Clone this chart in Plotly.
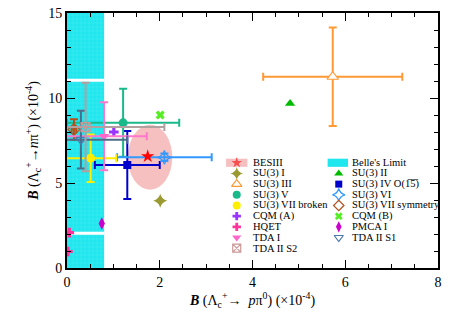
import plotly.graph_objects as go

# --- data ---
pred_name = ["SU(3) I", "SU(3) II", "SU(3) III", "SU(3) IV", "SU(3) V", "SU(3) VI",
             "SU(3) VII broken", "SU(3) VII symmetry", "CQM (A)", "CQM (B)",
             "HQET", "HQET", "PMCA I", "TDA I", "TDA II S1", "TDA II S2"]
pred_x = [2.01, 4.81, 5.73, 1.30, 1.21, 2.10, 0.51, 0.15, 1.01, 2.01, 0.05, 0.02, 0.75, 0.80, 0.30, 0.40]
pred_y = [3.95, 9.67, 11.25, 6.06, 8.54, 6.51, 6.46, 8.15, 8.00, 9.00, 2.08, 0.97, 2.62, 7.75, 7.55, 8.29]
pred_ex = [0, 0, 1.50, 0.70, 1.21, 1.02, 0.55, 0.05, 0, 0, 0, 0, 0, 0.92, 1.00, 1.70]
pred_ey = [0, 0, 2.90, 2.00, 2.00, 0.22, 1.40, 0.60, 0, 0, 0, 0, 0, 2.00, 1.70, 2.60]

besiii_x = [1.74]
besiii_y = [6.57]
besiii_ellipse = [1.79, 6.51, 0.48, 1.91]  # centre x, centre y, half width, half height

belle_x = [0, 0.8]
belle_y = [0, 15]
belle_gap_y = [11.05, 2.05]

legend_left = ["BESIII", "SU(3) I", "SU(3) III", "SU(3) V", "SU(3) VII broken",
               "CQM (A)", "HQET", "TDA I", "TDA II S2"]
legend_right = ["Belle's Limit", "SU(3) II", "SU(3) IV", "SU(3) VI", "SU(3) VII symmetry",
                "CQM (B)", "PMCA I", "TDA II S1"]
legend_text = {"SU(3) IV": "SU(3) IV O(1\u03055\u0305)"}

FONT = "Liberation Serif, Times New Roman, serif"

styles = {
    "SU(3) I": dict(marker=dict(symbol="star-diamond", color="#9a9a30", size=10), err="#9a9a30"),
    "SU(3) II": dict(marker=dict(symbol="triangle-up", color="#00bb00", size=9), err="#00bb00"),
    "SU(3) III": dict(marker=dict(symbol="triangle-up", color="white", size=10,
                                  line=dict(color="#ff9933", width=1.2)), err="#ff9933"),
    "SU(3) IV": dict(marker=dict(symbol="square", color="#0000cc", size=8), err="#0000cc"),
    "SU(3) V": dict(marker=dict(symbol="circle", color="#19b98a", size=9), err="#19b98a"),
    "SU(3) VI": dict(marker=dict(symbol="star-diamond-open", color="#3399ff", size=10,
                                 line=dict(width=1.2)), err="#3399ff"),
    "SU(3) VII broken": dict(marker=dict(symbol="circle", color="#ffee00", size=9), err="#ffee00"),
    "SU(3) VII symmetry": dict(marker=dict(symbol="diamond-open", color="#b5501b", size=9,
                                           line=dict(width=1.2)), err="#b5501b"),
    "CQM (A)": dict(marker=dict(symbol="cross", color="#9933ff", size=8), err="#9933ff"),
    "CQM (B)": dict(marker=dict(symbol="x", color="#55ee22", size=8), err="#55ee22"),
    "HQET": dict(marker=dict(symbol="cross", color="#ff3399", size=8), err="#ff3399"),
    "PMCA I": dict(marker=dict(symbol="diamond-tall", color="#cc00cc", size=9), err="#cc00cc"),
    "TDA I": dict(marker=dict(symbol="triangle-down", color="#ff66cc", size=9), err="#ff77cc"),
    "TDA II S1": dict(marker=dict(symbol="triangle-down-open", color="#4a78b0", size=9,
                                  line=dict(width=1.2)), err="#4d6d8a"),
    "TDA II S2": dict(marker=dict(symbol="square-x-open", color="#cc9999", size=9,
                                  line=dict(width=1.2)), err="#b0a0a0"),
}

fig = go.Figure()

# Belle's limit band
fig.add_trace(go.Scatter(
    x=[belle_x[0], belle_x[1], belle_x[1], belle_x[0], belle_x[0]],
    y=[belle_y[0], belle_y[0], belle_y[1], belle_y[1], belle_y[0]],
    fill="toself", fillcolor="#20e6ee", mode="lines", line=dict(width=0),
    fillpattern=dict(shape="+", fgcolor="#8ff4f7", bgcolor="#20e6ee", size=4, solidity=0.15),
    showlegend=False, hoverinfo="skip"))
for gy in belle_gap_y:
    fig.add_trace(go.Scatter(x=belle_x, y=[gy, gy], mode="lines",
                             line=dict(color="white", width=3),
                             showlegend=False, hoverinfo="skip"))

# BESIII ellipse
cx, cy, rx, ry = besiii_ellipse
fig.add_shape(type="circle", xref="x", yref="y", x0=cx - rx, x1=cx + rx, y0=cy - ry, y1=cy + ry,
              fillcolor="rgba(240,140,140,0.55)", line=dict(width=0), layer="below")

# predictions
order = list(dict.fromkeys(pred_name))
for name in order:
    idx = [i for i, n in enumerate(pred_name) if n == name]
    st = styles[name]
    fig.add_trace(go.Scatter(
        x=[pred_x[i] for i in idx], y=[pred_y[i] for i in idx], mode="markers",
        marker=st["marker"], name=name, showlegend=False,
        error_x=dict(type="data", array=[pred_ex[i] for i in idx], color=st["err"],
                     thickness=2, width=4, visible=any(pred_ex[i] for i in idx)),
        error_y=dict(type="data", array=[pred_ey[i] for i in idx], color=st["err"],
                     thickness=2, width=4, visible=any(pred_ey[i] for i in idx)),
    ))

fig.add_trace(go.Scatter(x=besiii_x, y=besiii_y, mode="markers", name="BESIII",
                         marker=dict(symbol="star", color="#ff0000", size=10),
                         showlegend=False))

# hand-drawn two-column legend
row0, step = 6.19, 0.628
cols = [(legend_left, 3.66, 3.97), (legend_right, 5.86, 6.10)]
for entries, mx, tx in cols:
    for k, name in enumerate(entries):
        yy = row0 - k * step
        if name == "BESIII":
            fig.add_shape(type="rect", x0=mx - 0.23, x1=mx + 0.23, y0=yy - 0.24, y1=yy + 0.24,
                          fillcolor="rgba(240,140,140,0.55)", line=dict(width=0))
            fig.add_trace(go.Scatter(x=[mx], y=[yy], mode="markers", showlegend=False,
                                     marker=dict(symbol="star", color="#ff0000", size=8),
                                     hoverinfo="skip"))
        elif name == "Belle's Limit":
            fig.add_shape(type="rect", x0=mx - 0.24, x1=mx + 0.20, y0=yy - 0.24, y1=yy + 0.24,
                          fillcolor="#20e6ee", line=dict(width=0))
        else:
            mk = dict(styles[name]["marker"])
            mk["size"] = mk["size"] - 1
            fig.add_trace(go.Scatter(x=[mx], y=[yy], mode="markers", showlegend=False,
                                     marker=mk, hoverinfo="skip"))
        fig.add_annotation(x=tx, y=yy, xref="x", yref="y", text=legend_text.get(name, name),
                           showarrow=False, xanchor="left", yanchor="middle",
                           font=dict(family=FONT, size=10.5, color="black"))

axis_common = dict(showline=True, linewidth=2, linecolor="black", mirror="allticks",
                   ticks="inside", ticklen=8, tickwidth=1, tickcolor="black",
                   showgrid=False, zeroline=False,
                   tickfont=dict(family=FONT, size=14, color="black"))

fig.update_xaxes(range=[0, 8], dtick=2, tick0=0,
                 minor=dict(dtick=0.5, ticks="inside", ticklen=4, tickcolor="black", showgrid=False),
                 title=dict(text="<b><i>B</i></b> (Λ<sub>c</sub><sup>+</sup>→  <i>p</i>π<sup>0</sup>) (×10<sup>-4</sup>)",
                            font=dict(family=FONT, size=14, color="black"), standoff=4),
                 **axis_common)
fig.update_yaxes(range=[0, 15], dtick=5, tick0=0,
                 minor=dict(dtick=1, ticks="inside", ticklen=4, tickcolor="black", showgrid=False),
                 title=dict(text="<b><i>B</i></b> (Λ<sub>c</sub><sup>+</sup>→<i>n</i>π<sup>+</sup>) (×10<sup>-4</sup>)",
                            font=dict(family=FONT, size=14, color="black"), standoff=6),
                 **axis_common)

fig.update_layout(width=449, height=324, margin=dict(l=67, r=11, t=6, b=56),
                  plot_bgcolor="white", paper_bgcolor="white", showlegend=False,
                  font=dict(family=FONT, color="black"))

fig.write_html("out.html", config={"displayModeBar": False},
               post_script="document.body.style.margin='0px';")
